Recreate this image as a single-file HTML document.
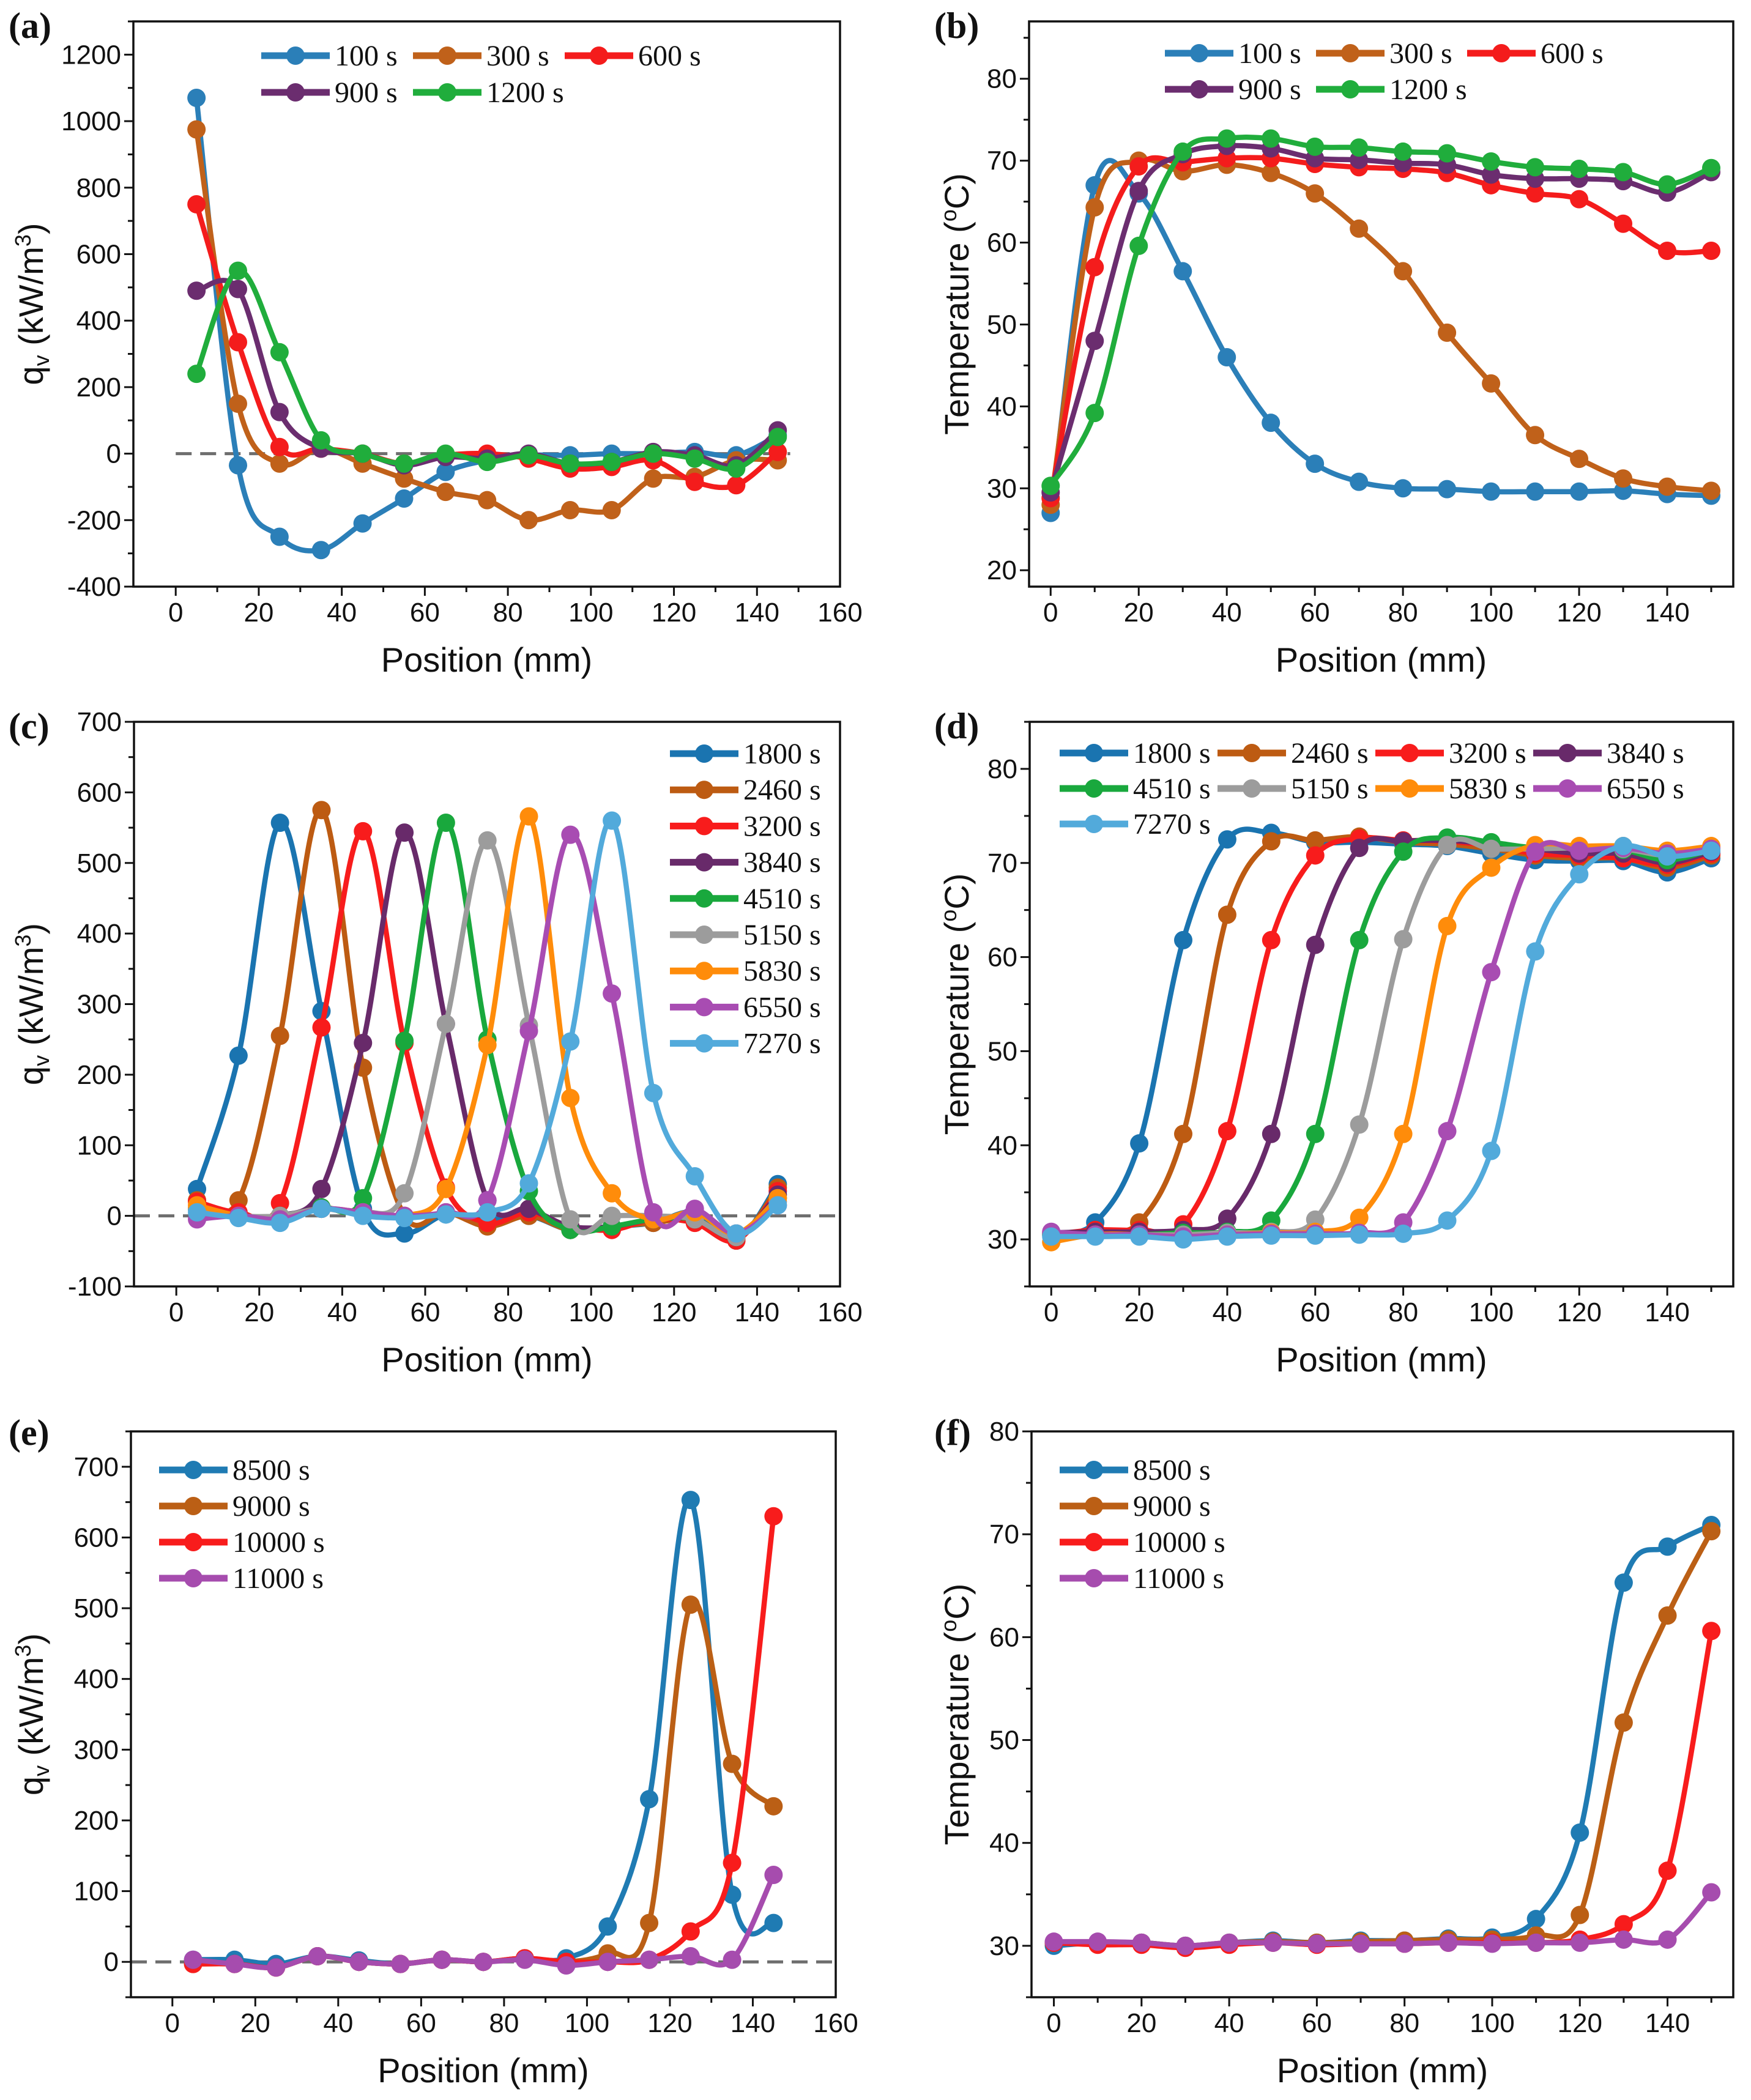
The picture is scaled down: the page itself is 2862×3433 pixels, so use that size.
<!DOCTYPE html>
<html><head><meta charset="utf-8">
<style>
html,body{margin:0;padding:0;background:#fff;}
svg{display:block;}
</style></head>
<body>
<svg id="fig" xmlns="http://www.w3.org/2000/svg" width="2862" height="3433" viewBox="0 0 2862 3433"></svg>
<script>
// ---------- Panel (a) data ----------
const posA = [5,15,25,35,45,55,65,75,85,95,105,115,125,135,145];
const qa100 = [1070,-35,-250,-290,-210,-135,-55,-20,-5,-5,0,0,5,-5,55];
const qa300 = [975,150,-30,15,-30,-75,-115,-140,-200,-170,-170,-75,-70,-20,-20];
const qa600 = [750,335,20,15,0,-30,-5,0,-15,-45,-40,-20,-85,-95,5];
const qa900 = [490,495,125,15,0,-35,-10,-15,0,-30,-25,5,-5,-35,70];
const qa1200 = [240,550,305,40,0,-30,0,-25,-5,-30,-25,0,-15,-45,50];
const labelsA = ["100 s","300 s","600 s","900 s","1200 s"];
// ---------- Panel (b) data ----------
const posB = [0,10,20,30,40,50,60,70,80,90,100,110,120,130,140,150];
const tb100 = [27,67,66,56.5,46,38,33,30.8,30,29.9,29.6,29.6,29.6,29.7,29.3,29.1];
const tb300 = [28,64.3,70,68.7,69.5,68.5,66,61.7,56.5,49,42.8,36.5,33.6,31.2,30.2,29.7];
const tb600 = [28.8,57,69.3,69.8,70.3,70.3,69.6,69.2,69,68.5,67,66,65.3,62.3,59,59];
const tb900 = [29.5,48,66.3,70.8,71.8,71.5,70.3,70.1,69.7,69.5,68.3,67.8,67.8,67.5,66.1,68.6];
const tb1200 = [30.3,39.2,59.6,71.1,72.7,72.7,71.7,71.6,71.1,70.9,69.9,69.2,69.0,68.6,67.1,69.1];
const labelsB = ["100 s","300 s","600 s","900 s","1200 s"];
// ---------- Panel (c) data ----------
const posC = [5,15,25,35,45,55,65,75,85,95,105,115,125,135,145];
const qc1800 = [38,227,557,290,10,-25,2,-5,0,-20,-15,-10,5,-35,45];
const qc2460 = [22,22,255,575,210,0,5,-15,0,-20,-15,-10,-5,-35,40];
const qc3200 = [20,5,18,267,545,245,40,-10,5,-15,-20,-5,-10,-35,35];
const qc3840 = [10,0,0,38,245,543,272,22,10,-15,-15,-5,-5,-30,30];
const qc4510 = [10,0,0,12,25,248,557,250,35,-20,-15,-5,-5,-30,25];
const qc5150 = [10,0,0,10,5,32,272,532,270,-5,0,0,-5,-30,20];
const qc5830 = [15,0,-5,10,5,0,38,242,566,167,32,-5,5,-25,25];
const qc6550 = [-5,0,-5,10,5,0,5,22,262,540,315,5,10,-25,15];
const qc7270 = [5,-3,-10,10,0,-3,2,5,46,247,560,174,56,-25,15];
const labelsC = ["1800 s","2460 s","3200 s","3840 s","4510 s","5150 s","5830 s","6550 s","7270 s"];
// ---------- Panel (d) data ----------
const posD = [0,10,20,30,40,50,60,70,80,90,100,110,120,130,140,150];
const td1800 = [30.5,31.8,40.2,61.8,72.5,73.2,72.2,72.2,72,71.8,71,70.3,70.2,70.2,69,70.5];
const td2460 = [30.5,31,31.8,41.2,64.5,72.3,72.4,72.8,72.2,72,71.5,70.8,70.5,70.5,69.5,70.8];
const td3200 = [30.5,31,31,31.6,41.5,61.8,70.8,72.6,72.4,72.3,71.8,71,70.8,70.5,69.8,71];
const td3840 = [30.7,30.8,30.8,31,32.2,41.2,61.3,71.6,72.3,72.4,72,71.5,71,71,70,71.2];
const td4510 = [30.5,30.5,30.5,30.7,30.8,32,41.2,61.8,71.2,72.7,72.2,71.6,71.6,71.4,70.3,71.4];
const td5150 = [30.5,30.5,30.5,30.5,30.7,30.8,32.1,42.2,61.9,71.9,71.5,71.5,71.6,71.5,70.8,71.5];
const td5830 = [29.7,30.5,30.5,30.3,30.5,30.7,30.8,32.3,41.2,63.3,69.5,71.9,71.8,71.8,71.3,71.8];
const td6550 = [30.8,30.5,30.5,30.3,30.5,30.6,30.6,30.7,31.8,41.5,58.4,71.2,71.3,71.6,71,71.5];
const td7270 = [30.3,30.3,30.3,30,30.3,30.4,30.4,30.5,30.6,32,39.4,60.6,68.8,71.8,70.7,71.3];
const labelsD = ["1800 s","2460 s","3200 s","3840 s","4510 s","5150 s","5830 s","6550 s","7270 s"];
// ---------- Panel (e) data ----------
const posE = [5,15,25,35,45,55,65,75,85,95,105,115,125,135,145];
const qe8500 = [3,3,-3,8,2,-3,3,0,5,5,50,230,653,95,55];
const qe9000 = [-3,-3,-8,8,0,-3,3,0,5,0,12,55,505,280,220];
const qe10000 = [-3,-3,-8,8,0,-3,3,0,5,0,0,3,43,140,630];
const qe11000 = [3,-3,-8,8,0,-3,3,0,3,-5,0,3,8,3,123];
const labelsE = ["8500 s","9000 s","10000 s","11000 s"];
// ---------- Panel (f) data ----------
const posF = [0,10,20,30,40,50,60,70,80,90,100,110,120,130,140,150];
const tf8500 = [30,30.3,30.3,30,30.3,30.5,30.3,30.5,30.5,30.7,30.8,32.6,41,65.3,68.8,70.9];
const tf9000 = [30.3,30.3,30.3,30,30.3,30.4,30.3,30.4,30.5,30.6,30.6,31,33,51.7,62.1,70.3];
const tf10000 = [30.3,30.1,30.1,29.8,30.1,30.3,30.1,30.2,30.2,30.3,30.3,30.3,30.6,32.1,37.3,60.6];
const tf11000 = [30.4,30.4,30.3,30,30.3,30.3,30.2,30.2,30.2,30.3,30.2,30.3,30.3,30.6,30.6,35.2];
const labelsF = ["8500 s","9000 s","10000 s","11000 s"];
// ---------- tick label arrays ----------
const ticksXq = [0,20,40,60,80,100,120,140,160];
const ticksXt = [0,20,40,60,80,100,120,140];
const ticksYa = [-400,-200,0,200,400,600,800,1000,1200];
const ticksYb = [20,30,40,50,60,70,80];
const ticksYc = [-100,0,100,200,300,400,500,600,700];
const ticksYd = [30,40,50,60,70,80];
const ticksYe = [0,100,200,300,400,500,600,700];
const ticksYf = [30,40,50,60,70,80];

const NS = "http://www.w3.org/2000/svg";
const svg = document.getElementById('fig');
function mk(tag, attrs, parent){
  const e = document.createElementNS(NS, tag);
  for (const k in attrs) e.setAttribute(k, attrs[k]);
  parent.appendChild(e);
  return e;
}
const C5 = ["#2b7fb8","#c0611a","#f41c1c","#6b2d6f","#20ad3c"];
const C9 = ["#1a74b0","#bd5b12","#f81c1c","#682a6a","#19a83d","#9c9c9c","#ff8c0a","#a84cb2","#52aadb"];
const C4 = ["#1f7bb3","#bb5f15","#f81c1c","#a64cae"];

function smooth(pts){
  let d = "M" + pts[0][0].toFixed(1) + "," + pts[0][1].toFixed(1);
  for (let i=0;i<pts.length-1;i++){
    const p0 = pts[i-1]||pts[i], p1=pts[i], p2=pts[i+1], p3=pts[i+2]||pts[i+1];
    const c1x = p1[0]+(p2[0]-p0[0])/6, c1y = p1[1]+(p2[1]-p0[1])/6;
    const c2x = p2[0]-(p3[0]-p1[0])/6, c2y = p2[1]-(p3[1]-p1[1])/6;
    d += "C"+c1x.toFixed(1)+","+c1y.toFixed(1)+" "+c2x.toFixed(1)+","+c2y.toFixed(1)+" "+p2[0].toFixed(1)+","+p2[1].toFixed(1);
  }
  return d;
}

function drawPanel(p){
  const g = mk('g', {}, svg);
  
  
  const sx = v => p.L + (v - p.x0) / (p.x1 - p.x0) * (p.R - p.L);
  const sy = v => p.B - (v - p.y0) / (p.y1 - p.y0) * (p.B - p.T);
  if (p.zero){
    const z = mk('line', {x1: p.zx0 != null ? sx(p.zx0) : p.L, x2: p.zx1 != null ? sx(p.zx1) : p.R, y1: sy(0), y2: sy(0), stroke:'#6e6e6e', 'stroke-width':5, 'stroke-dasharray':'26,14'}, g);
    
    
  }
  p.series.forEach((ys, si) => {
    const sg = mk('g', {}, g);
    
    
    const pts = p.xs.map((x,i) => [sx(x), sy(ys[i])]);
    const path = mk('path', {d: smooth(pts), fill:'none', stroke:p.colors[si], 'stroke-width':8.5, 'stroke-linejoin':'round'}, sg);
    
    
    pts.forEach(pt => {
      const c = mk('circle', {cx:pt[0], cy:pt[1], r:15, fill:p.colors[si]}, sg);
      
      
    });
  });
  const box = mk('rect', {x:p.L, y:p.T, width:p.R-p.L, height:p.B-p.T, fill:'none', stroke:'#111', 'stroke-width':3.5}, g);
  
  
  for (let v = p.xmStart; v <= p.xmEnd + 1e-6; v += p.xm){
    const major = p.xt.includes(v);
    const t = mk('line', {x1:sx(v), x2:sx(v), y1:p.B, y2:p.B + (major?15:9), stroke:'#111', 'stroke-width':3}, g);
    
    
  }
  p.xt.forEach(v => {
    const t = mk('text', {x:sx(v), y:p.B+57, 'text-anchor':'middle', 'font-family':'Liberation Sans, sans-serif', 'font-size':44, fill:'#111'}, g);
    t.textContent = v;
    
    
  });
  for (let v = p.ymStart; v <= p.ymEnd + 1e-6; v += p.ym){
    const major = p.yt.includes(v);
    const t = mk('line', {x1:p.L, x2:p.L - (major?15:9), y1:sy(v), y2:sy(v), stroke:'#111', 'stroke-width':3}, g);
    
    
  }
  p.yt.forEach(v => {
    const t = mk('text', {x:p.L-20, y:sy(v)+15, 'text-anchor':'end', 'font-family':'Liberation Sans, sans-serif', 'font-size':44, fill:'#111'}, g);
    t.textContent = v;
    
    
  });
  const xt = mk('text', {x:(p.L+p.R)/2, y:p.B+139, 'text-anchor':'middle', 'font-family':'Liberation Sans, sans-serif', 'font-size':56, fill:'#111'}, g);
  xt.textContent = 'Position (mm)';
  
  
  const cy = (p.T+p.B)/2;
  const yt = mk('text', {x:0, y:0, transform:'translate(' + (p.ytx) + ',' + cy + ') rotate(-90)', 'text-anchor':'middle', 'font-family':'Liberation Sans, sans-serif', 'font-size':56, fill:'#111'}, g);
  
  
  if (p.ytype === 'q'){
    yt.innerHTML = 'q<tspan font-size="36" dy="10">v</tspan><tspan dy="-10"> (kW/m</tspan><tspan font-size="36" dy="-20">3</tspan><tspan dy="20">)</tspan>';
  } else {
    yt.innerHTML = 'Temperature (<tspan font-size="36" dy="-20">o</tspan><tspan dy="20">C)</tspan>';
  }
  const pl = mk('text', {x:p.lx, y:p.ly, 'font-family':'Liberation Serif, serif', 'font-weight':'bold', 'font-size':60, fill:'#111'}, g);
  pl.textContent = p.tag;
  
  
  const lg = mk('g', {}, g);
  
  
  p.labels.forEach((lab, i) => {
    const pos = p.legPos(i);
    const eg = mk('g', {}, lg);
    
    
    mk('line', {x1:pos[0], x2:pos[0]+112, y1:pos[1], y2:pos[1], stroke:p.colors[i], 'stroke-width':11}, eg);
    mk('circle', {cx:pos[0]+56, cy:pos[1], r:15, fill:p.colors[i]}, eg);
    const t = mk('text', {x:pos[0]+120, y:pos[1]+16, 'font-family':'Liberation Serif, serif', 'font-size':48, fill:'#111'}, eg);
    t.textContent = lab;
  });
}

drawPanel({name:'panel-a-heat-source', tag:'(a)', lx:14, ly:62, L:218, R:1373, T:35, B:959,
  x0:-10.2, x1:160, y0:-400, y1:1300, xs:posA, series:[qa100,qa300,qa600,qa900,qa1200], colors:C5, labels:labelsA,
  xt:ticksXq, xm:10, xmStart:0, xmEnd:150, yt:ticksYa, ym:100, ymStart:-400, ymEnd:1300, ytype:'q', ytx:70,
  zero:true, zx0:0, zx1:148, legPos:i=>[427 + (i%3)*248, 91 + Math.floor(i/3)*60]});
drawPanel({name:'panel-b-temperature', tag:'(b)', lx:1527, ly:62, L:1682, R:2833, T:35, B:959,
  x0:-4.9, x1:155, y0:18, y1:87, xs:posB, series:[tb100,tb300,tb600,tb900,tb1200], colors:C5, labels:labelsB,
  xt:ticksXt, xm:10, xmStart:0, xmEnd:150, yt:ticksYb, ym:5, ymStart:20, ymEnd:85, ytype:'t', ytx:1583,
  zero:false, legPos:i=>[1904 + (i%3)*247, 87 + Math.floor(i/3)*59]});
drawPanel({name:'panel-c-heat-source', tag:'(c)', lx:14, ly:1207, L:219, R:1373, T:1180, B:2103,
  x0:-10.2, x1:160, y0:-100, y1:700, xs:posC, series:[qc1800,qc2460,qc3200,qc3840,qc4510,qc5150,qc5830,qc6550,qc7270], colors:C9, labels:labelsC,
  xt:ticksXq, xm:10, xmStart:0, xmEnd:150, yt:ticksYc, ym:50, ymStart:-100, ymEnd:700, ytype:'q', ytx:70,
  zero:true, legPos:i=>[1095, 1232 + i*59.2]});
drawPanel({name:'panel-d-temperature', tag:'(d)', lx:1527, ly:1207, L:1683, R:2833, T:1180, B:2103,
  x0:-4.9, x1:155, y0:25, y1:85, xs:posD, series:[td1800,td2460,td3200,td3840,td4510,td5150,td5830,td6550,td7270], colors:C9, labels:labelsD,
  xt:ticksXt, xm:10, xmStart:0, xmEnd:150, yt:ticksYd, ym:5, ymStart:25, ymEnd:85, ytype:'t', ytx:1583,
  zero:false, legPos:i=>[1732 + (i%4)*258, 1231 + Math.floor(i/4)*58]});
drawPanel({name:'panel-e-heat-source', tag:'(e)', lx:14, ly:2362, L:214, R:1366, T:2340, B:3265,
  x0:-10, x1:160, y0:-50, y1:750, xs:posE, series:[qe8500,qe9000,qe10000,qe11000], colors:C4, labels:labelsE,
  xt:ticksXq, xm:10, xmStart:0, xmEnd:150, yt:ticksYe, ym:50, ymStart:-50, ymEnd:750, ytype:'q', ytx:70,
  zero:true, legPos:i=>[260, 2403 + i*59]});
drawPanel({name:'panel-f-temperature', tag:'(f)', lx:1527, ly:2362, L:1686, R:2833, T:2340, B:3265,
  x0:-5.1, x1:155, y0:25, y1:80, xs:posF, series:[tf8500,tf9000,tf10000,tf11000], colors:C4, labels:labelsF,
  xt:ticksXt, xm:10, xmStart:0, xmEnd:150, yt:ticksYf, ym:5, ymStart:25, ymEnd:80, ytype:'t', ytx:1583,
  zero:false, legPos:i=>[1732, 2403 + i*59]});
</script>
</body></html>
